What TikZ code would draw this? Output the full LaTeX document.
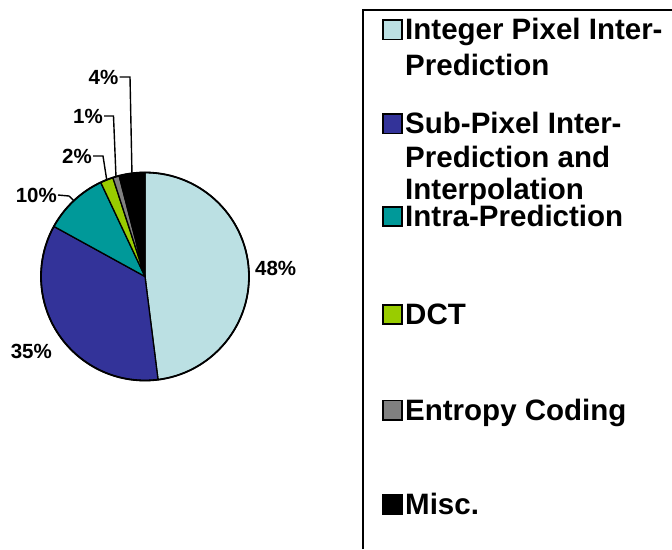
\documentclass[tikz,border=0pt]{standalone}
\usepackage{fontspec}
\setmainfont{Liberation Sans}
\usetikzlibrary{calc}
\definecolor{cInt}{HTML}{BBE0E3}
\definecolor{cSub}{HTML}{333399}
\definecolor{cIntra}{HTML}{009999}
\definecolor{cDct}{HTML}{99CC00}
\definecolor{cEnt}{HTML}{808080}
\definecolor{cMisc}{HTML}{000000}
\begin{document}
\begin{tikzpicture}[x=1pt,y=1pt,
  slice/.style={draw=black,line width=1.3pt,line join=round},
  pielabel/.style={font=\fontsize{20.5}{24}\selectfont\bfseries,inner sep=0pt},
  leader/.style={draw=black,line width=1.4pt},
  legtext/.style={font=\fontsize{29.5}{35}\selectfont\bfseries,inner sep=0pt,anchor=base west},
  legkey/.style={draw=black,line width=1.3pt}]
\useasboundingbox (0,0) rectangle (672,-549);
\def\R{104}
\coordinate (c) at (145,-276.5);
% slices
\filldraw[slice,fill=cInt] (c) -- ++(90:\R) arc[start angle=90,end angle=-82.8,radius=\R] -- cycle;
\filldraw[slice,fill=cSub] (c) -- ++(-82.8:\R) arc[start angle=-82.8,end angle=-208.8,radius=\R] -- cycle;
\filldraw[slice,fill=cIntra] (c) -- ++(-208.8:\R) arc[start angle=-208.8,end angle=-244.8,radius=\R] -- cycle;
\filldraw[slice,fill=cDct] (c) -- ++(-244.8:\R) arc[start angle=-244.8,end angle=-252,radius=\R] -- cycle;
\filldraw[slice,fill=cEnt] (c) -- ++(-252:\R) arc[start angle=-252,end angle=-255.6,radius=\R] -- cycle;
\filldraw[slice,fill=cMisc] (c) -- ++(-255.6:\R) arc[start angle=-255.6,end angle=-270,radius=\R] -- cycle;
\draw[line width=1.8pt] (c) circle[radius=\R];
% percentage labels
\node[pielabel,anchor=west] (l48) at (255,-268) {48\%};
\node[pielabel,anchor=east] (l35) at (52,-351) {35\%};
\node[pielabel,anchor=east] (l10) at (57,-195) {10\%};
\node[pielabel,anchor=east] (l2) at (92,-156) {2\%};
\node[pielabel,anchor=east] (l1) at (103,-116) {1\%};
\node[pielabel,anchor=east] (l4) at (118.5,-77) {4\%};
% leader lines
\coordinate (p10) at ($(c)+(133.2:\R)$);
\coordinate (p2) at ($(c)+(111.6:\R)$);
\coordinate (p1) at ($(c)+(106.2:\R)$);
\coordinate (p4) at ($(c)+(97.2:\R)$);
\coordinate (e10) at (69,-196);
\coordinate (e2) at (103,-156);
\coordinate (e1) at (113.5,-116);
\coordinate (e4) at (130,-77);
\draw[leader] ([xshift=1pt]l10.east) -- (e10) -- (p10);
\draw[leader] ([xshift=1pt]l2.east) -- (e2) -- (p2);
\draw[leader] ([xshift=1pt]l1.east) -- (e1) -- (p1);
\draw[leader] ([xshift=1pt]l4.east) -- (e4) -- (p4);
% legend frame
\draw[line width=2pt] (363,-549) -- (363,-10) -- (672,-10);
% legend keys
\draw[legkey,fill=cInt] (383,-20) rectangle (402,-39.5);
\draw[legkey,fill=cSub] (383,-114) rectangle (402,-133.5);
\draw[legkey,fill=cIntra] (383,-207) rectangle (402,-226);
\draw[legkey,fill=cDct] (383,-305) rectangle (402,-324);
\draw[legkey,fill=cEnt] (383,-400.5) rectangle (402,-420);
\draw[legkey,fill=cMisc] (383,-494.5) rectangle (402,-514);
% legend texts
\node[legtext] (t1a) at (405,-39.5) {Integer Pixel Inter-};
\node[legtext] (t1b) at (405,-75) {Prediction};
\node[legtext] (t2a) at (405,-133.5) {Sub-Pixel Inter-};
\node[legtext] (t2b) at (405,-167) {Prediction and};
\node[legtext] (t2c) at (405,-199) {Interpolation};
\node[legtext] (t3) at (405,-226.5) {Intra-Prediction};
\node[legtext] (t4) at (405,-324) {DCT};
\node[legtext] (t5) at (405,-420) {Entropy Coding};
\node[legtext] (t6) at (405,-514) {Misc.};
\end{tikzpicture}
\end{document}
